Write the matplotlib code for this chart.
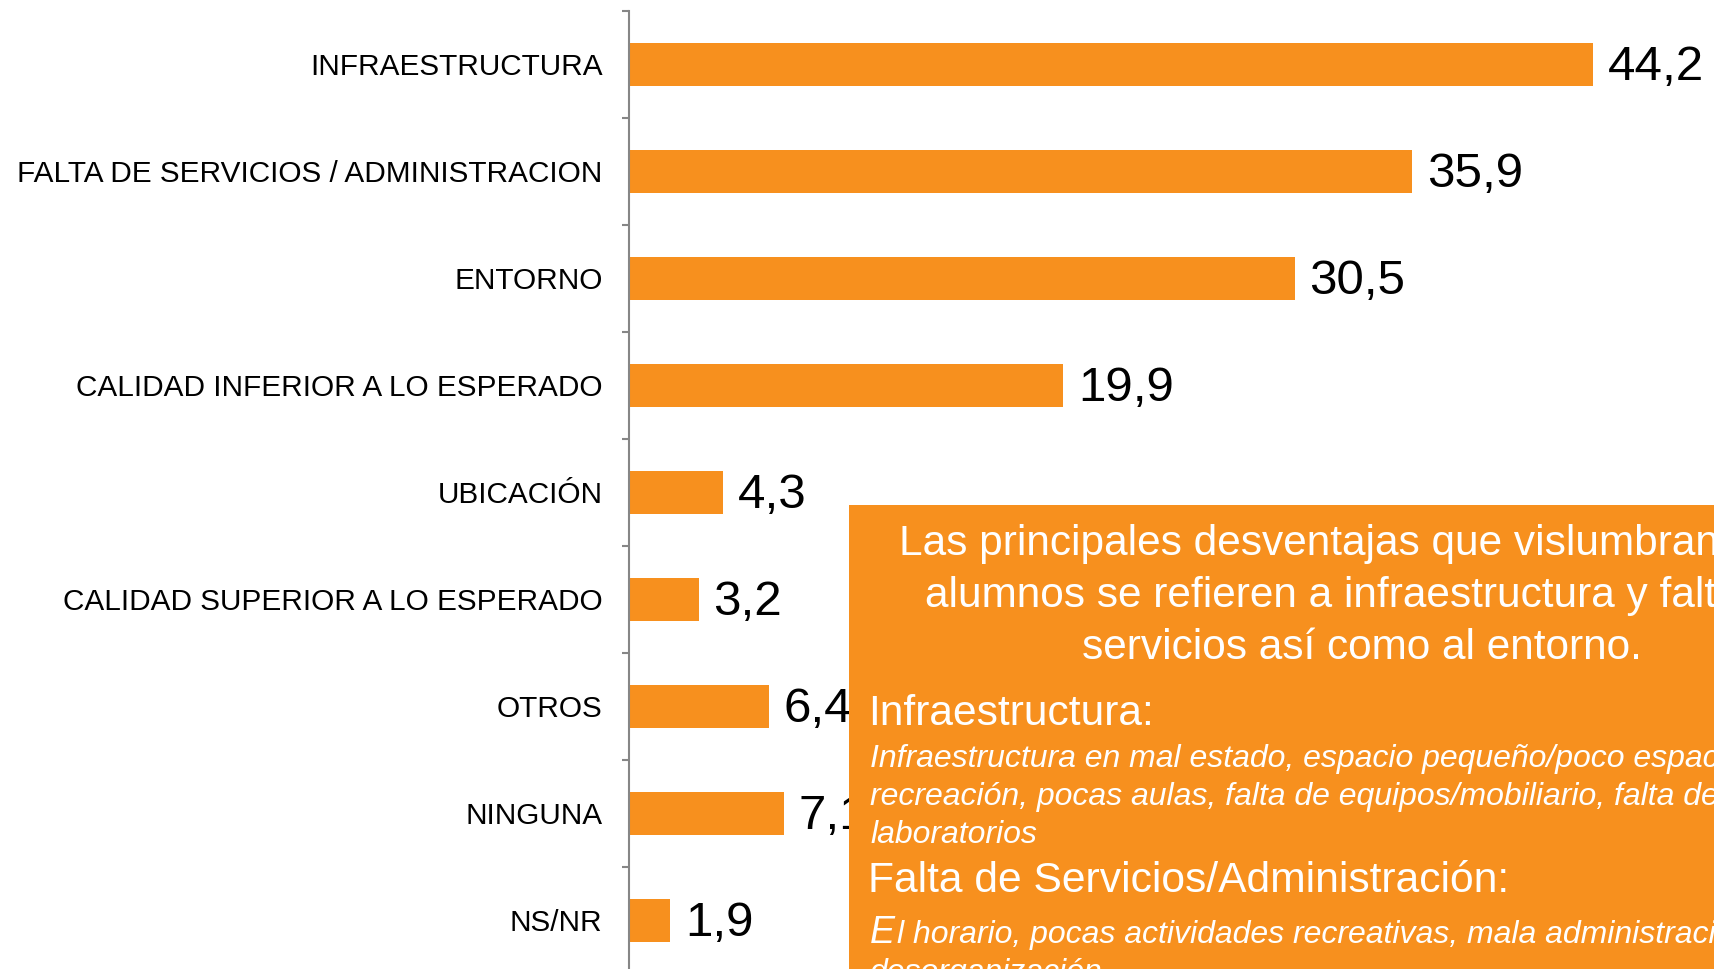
import matplotlib
matplotlib.use("Agg")
import matplotlib.pyplot as plt
import matplotlib.patches as patches
import numpy as np

plt.rcParams['font.family'] = ['Liberation Sans', 'DejaVu Sans']

categorias = ["INFRAESTRUCTURA", "FALTA DE SERVICIOS / ADMINISTRACION", "ENTORNO",
              "CALIDAD INFERIOR A LO ESPERADO", "UBICACIÓN", "CALIDAD SUPERIOR A LO ESPERADO",
              "OTROS", "NINGUNA", "NS/NR"]
valores = [44.2, 35.9, 30.5, 19.9, 4.3, 3.2, 6.4, 7.1, 1.9]

titulo = ["Las principales desventajas que vislumbran los",
          "alumnos se refieren a infraestructura y falta de",
          "servicios así como al entorno."]
infra_lineas = ["Infraestructura en mal estado, espacio pequeño/poco espacio de",
                "recreación, pocas aulas, falta de equipos/mobiliario, falta de",
                "laboratorios"]
serv_lineas = ["l horario, pocas actividades recreativas, mala administración,",
               "desorganización"]

naranja = '#F7901E'
W, H = 1714, 969

def fx(x):
    return x / W

def fy(y):
    return 1 - y / H

fig = plt.figure(figsize=(W / 100, H / 100), dpi=100)
ax = fig.add_axes([fx(629), fy(974), fx(1091), 963 / H])

y = np.arange(len(categorias))
ax.barh(y, valores, height=0.4, color=naranja)
ax.set_ylim(len(categorias) - 0.5, -0.5)
ax.set_xlim(0, 50)

# etiquetas de valor, un poco mas abajo del centro como en el original
for yi, v in zip(y, valores):
    ax.annotate(str(v).replace('.', ','), xy=(v, yi), xytext=(10.5, -2.5),
                textcoords='offset points', ha='left', va='center',
                fontsize=35.5, color='black')

ax.set_yticks(y)
ax.set_yticklabels(categorias, fontsize=21.4)
ax.set_yticks(np.arange(len(categorias) + 1) - 0.5, minor=True)
ax.tick_params(axis='y', which='major', length=0, pad=19)
ax.tick_params(axis='y', which='minor', length=5, width=1.5, color='#868686')
ax.set_xticks([])
for s in ['top', 'right', 'bottom']:
    ax.spines[s].set_visible(False)
ax.spines['left'].set_color('#868686')
ax.spines['left'].set_linewidth(1.5)

# cuadro de texto
caja = patches.Rectangle((fx(849), 0), fx(1100), (H - 505) / H, transform=fig.transFigure,
                         facecolor=naranja, edgecolor='none', zorder=10)
fig.add_artist(caja)

centros = [1342, 1362, 1362]
for i, linea in enumerate(titulo):
    fig.text(fx(centros[i]), fy(555 + 52 * i), linea, ha='center', va='baseline',
             fontsize=30.5, color='white', zorder=11)

fig.text(fx(868), fy(725), "Infraestructura:", ha='left', va='baseline',
         fontsize=30.6, color='white', zorder=11)
for i, linea in enumerate(infra_lineas):
    fig.text(fx(870), fy(767 + 38 * i), linea, ha='left', va='baseline',
             fontsize=23, style='italic', color='white', zorder=11)

fig.text(fx(868), fy(892), "Falta de Servicios/Administración:", ha='left', va='baseline',
         fontsize=30.7, color='white', zorder=11)
fig.text(fx(870), fy(943), "E", ha='left', va='baseline',
         fontsize=27, style='italic', color='white', zorder=11)
fig.text(fx(897), fy(943), serv_lineas[0], ha='left', va='baseline',
         fontsize=23, style='italic', color='white', zorder=11)
fig.text(fx(870), fy(981), serv_lineas[1], ha='left', va='baseline',
         fontsize=23, style='italic', color='white', zorder=11)

fig.savefig("out.png", dpi=100)
